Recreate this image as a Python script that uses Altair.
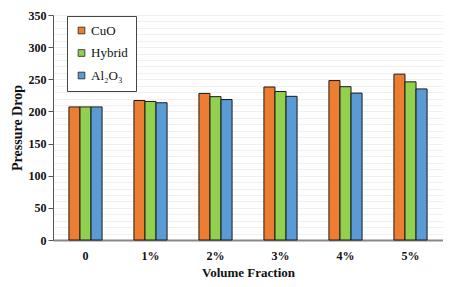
import altair as alt
import pandas as pd

groups = ["0", "1%", "2%", "3%", "4%", "5%"]
series = ["CuO", "Hybrid", "Al₂O₃"]
cuo = [207, 217, 228, 238, 248, 258]
hybrid = [207, 215.5, 223, 231, 238.5, 246]
al2o3 = [207, 213.5, 218.5, 223.5, 228.5, 235]
colors = ["#ED7D31", "#92D050", "#5B9BD5"]

rows = []
for s, vals in zip(series, [cuo, hybrid, al2o3]):
    for g, v in zip(groups, vals):
        rows.append({"Volume Fraction": g, "Series": s, "Pressure Drop": v})
df = pd.DataFrame(rows)

font = "Liberation Serif"

yscale = alt.Scale(domain=[0, 350], nice=False)

minor = alt.Chart(pd.DataFrame({"v": [0]})).mark_point(opacity=0).encode(
    y=alt.Y("v:Q", scale=yscale,
            axis=alt.Axis(orient="left", values=list(range(0, 351, 10)), grid=True,
                          gridColor="#f0f0f0", labels=False, ticks=False,
                          domain=False, title=None))
)

bars = alt.Chart(df).mark_bar(stroke="#1a1a1a", strokeWidth=1).encode(
    x=alt.X("Volume Fraction:N", sort=groups,
            scale=alt.Scale(paddingInner=0.49, paddingOuter=0.245),
            axis=alt.Axis(title="Volume Fraction", labelAngle=0, labelFont=font,
                          labelFontWeight="bold", labelFontSize=12, labelColor="#111",
                          titleFont=font, titleFontWeight="bold", titleFontSize=13,
                          titleColor="#111", ticks=False, domainColor="#888",
                          domainWidth=2, labelPadding=10, titlePadding=5)),
    xOffset=alt.XOffset("Series:N", sort=series),
    y=alt.Y("Pressure Drop:Q", scale=yscale,
            axis=alt.Axis(orient="left", title="Pressure Drop",
                          values=list(range(0, 351, 50)),
                          labelFont=font, labelFontWeight="bold", labelFontSize=12,
                          labelColor="#111", titleFont=font, titleFontWeight="bold",
                          titleFontSize=14, titleColor="#111", gridColor="#dcdcdc",
                          domainColor="#555", tickColor="#555", tickSize=5,
                          labelPadding=2, titlePadding=4)),
    color=alt.Color("Series:N", sort=series,
                    scale=alt.Scale(domain=series, range=colors),
                    legend=alt.Legend(title=None, orient="none", legendX=14, legendY=1,
                                      labelFont=font, labelFontSize=13, labelColor="#111",
                                      symbolType="square", symbolSize=45,
                                      symbolStrokeColor="#222", symbolStrokeWidth=0.8,
                                      rowPadding=8.5, padding=8, labelOffset=3,
                                      strokeColor="#444", fillColor="white",
                                      cornerRadius=0)),
)

chart = alt.layer(minor, bars).resolve_axis(y="independent").properties(
    width=390, height=225,
    autosize=alt.AutoSizeParams(type="none"),
    padding={"left": 45, "right": 0, "top": 7, "bottom": 39}
).configure_view(stroke=None).configure(background="white")

chart.save("out.html", embed_options={"renderer": "svg", "actions": False})
